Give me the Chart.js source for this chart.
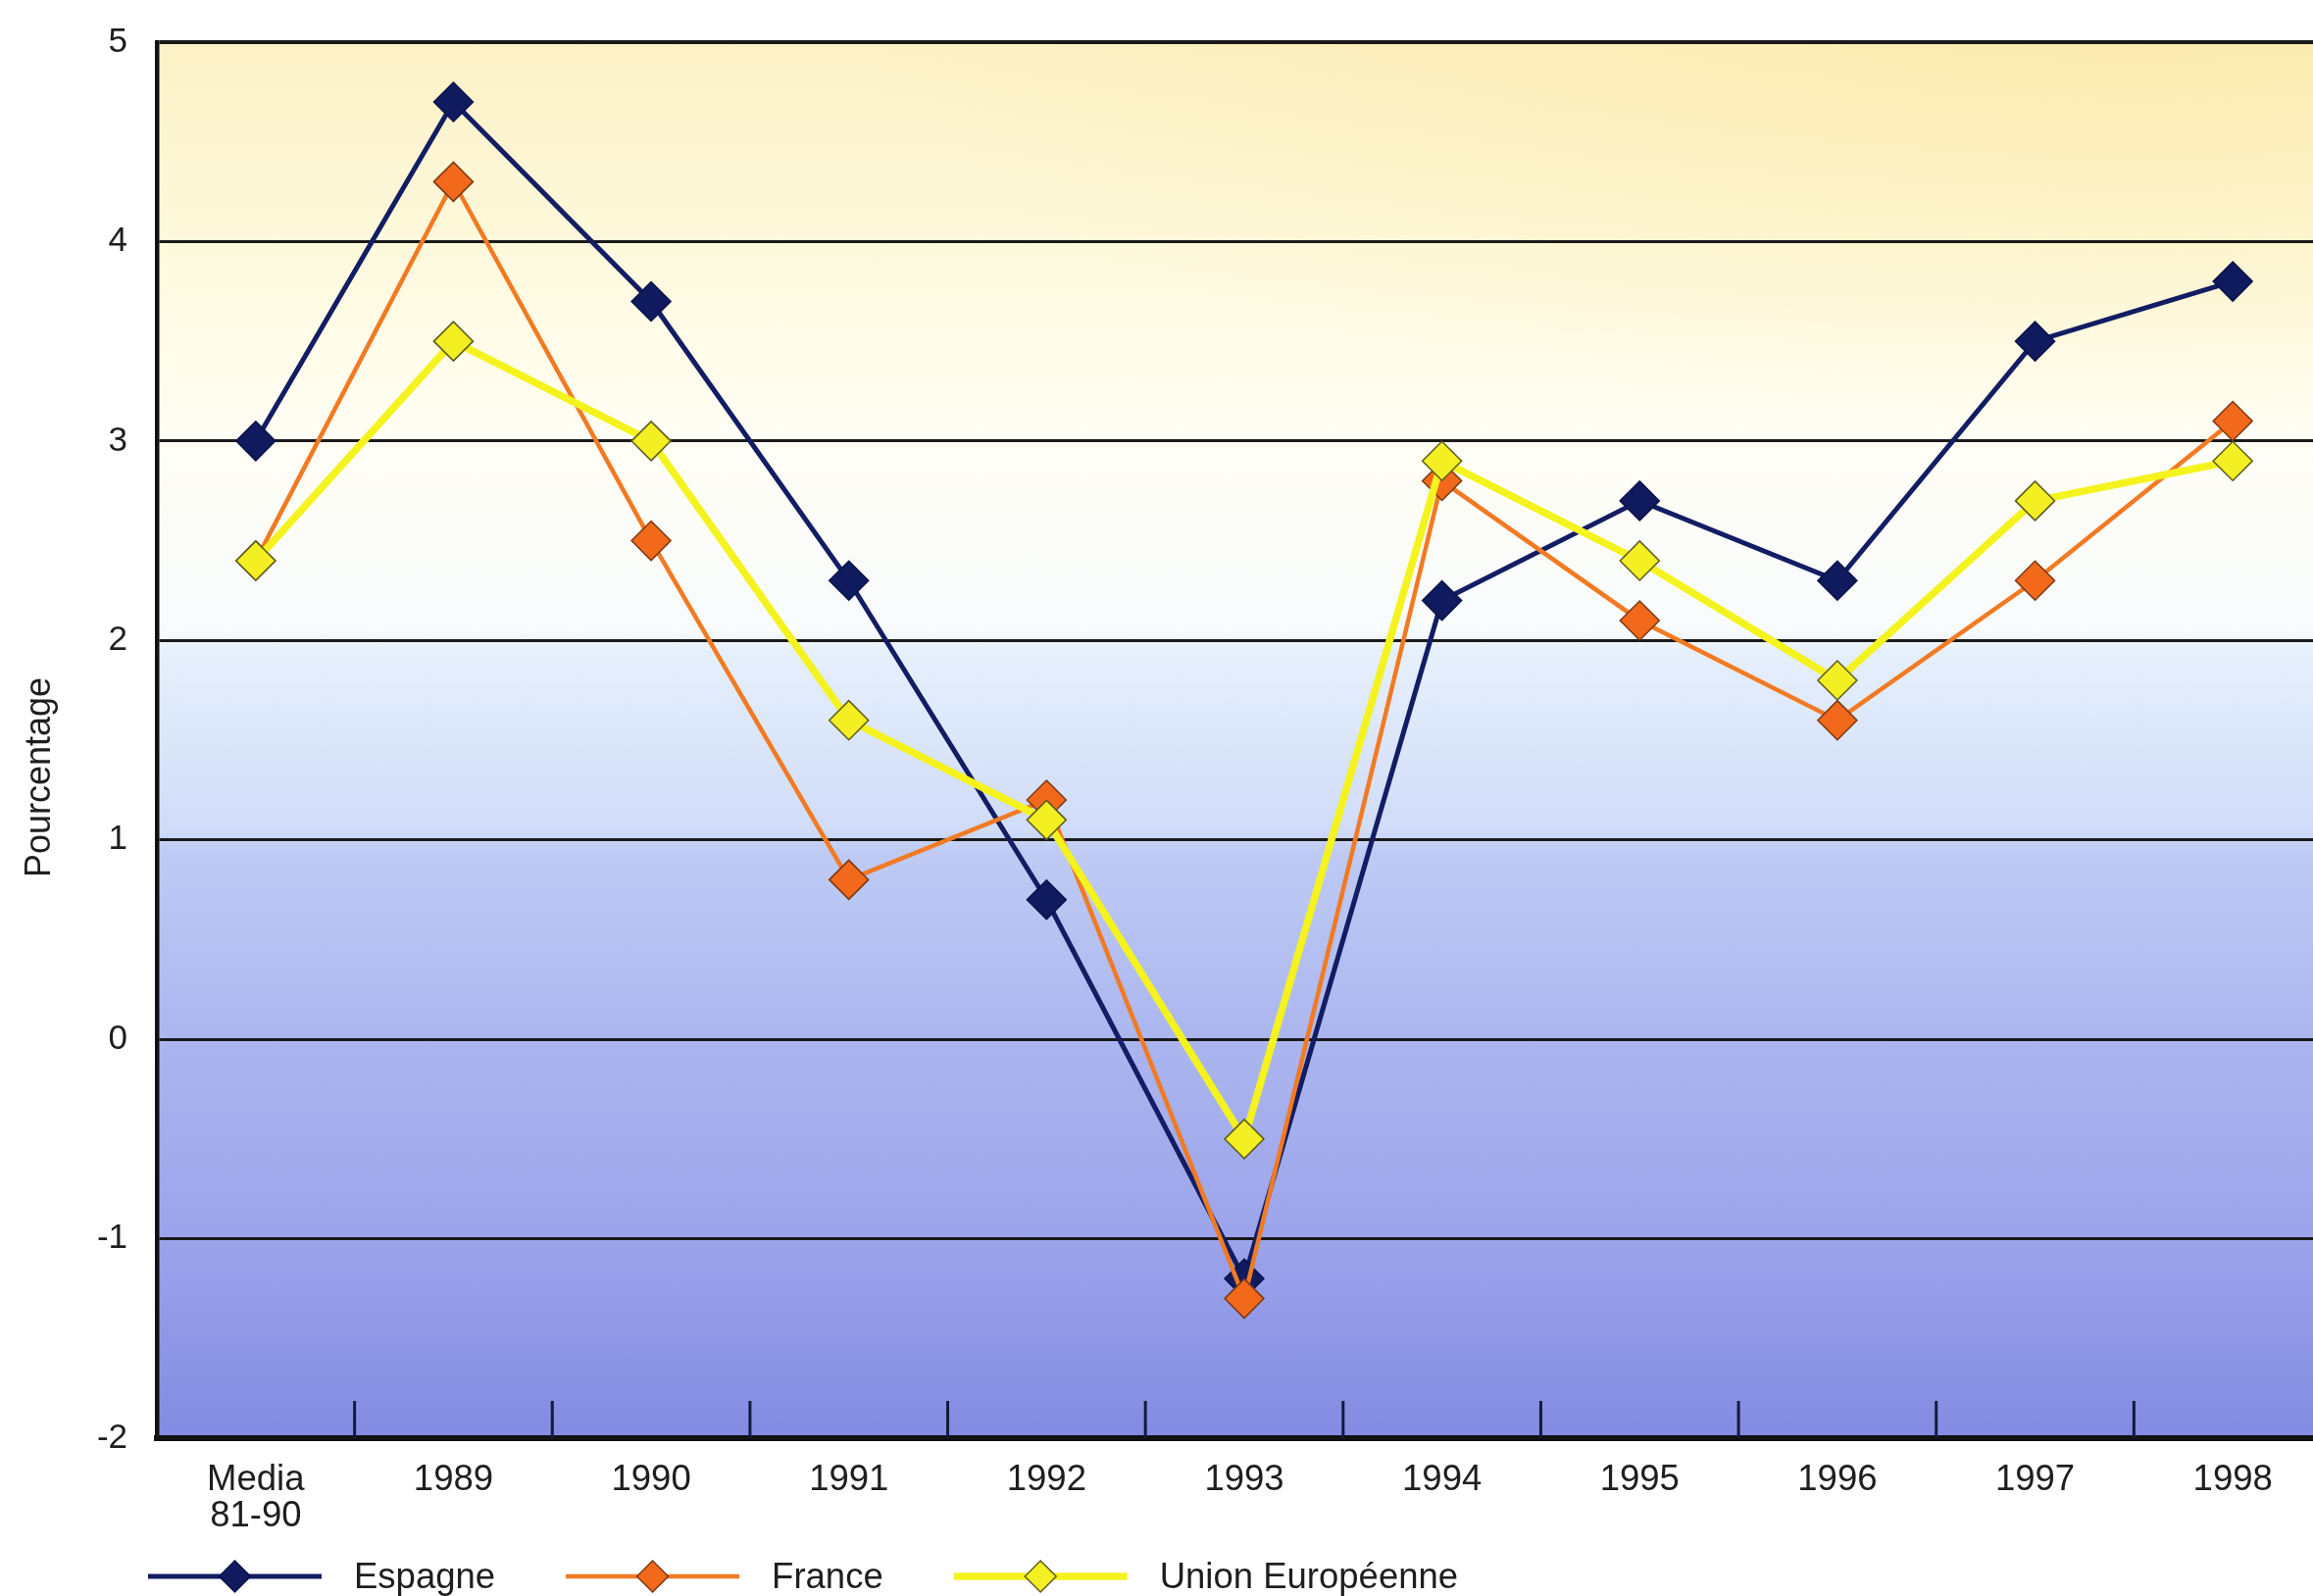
<!DOCTYPE html>
<html>
<head>
<meta charset="utf-8">
<script src="https://cdn.jsdelivr.net/npm/chart.js@4/dist/chart.umd.min.js"></script>
<style>
  html, body { margin: 0; padding: 0; background: #ffffff; overflow: hidden; }
  #wrap { width: 2359px; height: 1628px; overflow: hidden; position: relative; }
  #wrap canvas { position: absolute; left: 0; top: 0; }
</style>
</head>
<body>
<div id="wrap"><canvas id="growth" width="2378" height="1628" style="width:2378px;height:1628px"></canvas></div>
<script>
// Real GDP growth, %: 1981-90 average, then yearly 1989-1998
const categories = [['Media', '81-90'], '1989', '1990', '1991', '1992', '1993', '1994', '1995', '1996', '1997', '1998'];
const espagne = [3.0, 4.7, 3.7, 2.3, 0.7, -1.2, 2.2, 2.7, 2.3, 3.5, 3.8];
const france  = [2.4, 4.3, 2.5, 0.8, 1.2, -1.3, 2.8, 2.1, 1.6, 2.3, 3.1];
const unionEuropeenne = [2.4, 3.5, 3.0, 1.6, 1.1, -0.5, 2.9, 2.4, 1.8, 2.7, 2.9];
const seriesNames = ['Espagne', 'France', 'Union Européenne'];
const yMin = -2, yMax = 5, yStep = 1;
const yTitle = 'Pourcentage';

const FONT = '"Liberation Sans", Arial, sans-serif';
const INK = '#1e1e1e';

// plot-area wash: cream at the top, white in the middle, periwinkle at the bottom
const washStops = [
  [5, '#fcf1c6'], [4, '#fef9dc'], [3, '#fffef5'], [2.05, '#f8fbfd'],
  [1.95, '#e6f0fc'], [1.05, '#d0dcf8'], [0.95, '#bfcbf4'], [0, '#abb6ef'],
  [-1, '#9ba4ea'], [-2, '#838be2']
];

const plotWash = {
  id: 'plotWash',
  beforeDraw(chart) {
    const { ctx, chartArea: a, scales: { y } } = chart;
    const top = y.getPixelForValue(yMax), bottom = y.getPixelForValue(yMin);
    const g = ctx.createLinearGradient(0, top, 0, bottom);
    washStops.forEach(([v, c]) => g.addColorStop((y.getPixelForValue(v) - top) / (bottom - top), c));
    ctx.save();
    ctx.fillStyle = g;
    ctx.fillRect(a.left, a.top, a.right - a.left, a.bottom - a.top);
    // soft warmer glow toward the upper right corner
    ctx.beginPath();
    ctx.rect(a.left, a.top, a.right - a.left, a.bottom - a.top);
    ctx.clip();
    const sy = 0.3;
    ctx.setTransform(1, 0, 0, sy, 0, 0);
    const cx = a.right - 200, cy = top / sy;
    const r = ctx.createRadialGradient(cx, cy, 0, cx, cy, 1300);
    r.addColorStop(0, 'rgba(248,222,130,0.35)');
    r.addColorStop(1, 'rgba(248,222,130,0)');
    ctx.fillStyle = r;
    ctx.fillRect(a.left, top / sy, a.right - a.left, 1400);
    ctx.restore();
  }
};

// short inner tick marks between categories, rising from the baseline
const innerTicks = {
  id: 'innerTicks',
  beforeDatasetsDraw(chart) {
    const { ctx, chartArea: a, scales: { x } } = chart;
    ctx.save();
    ctx.strokeStyle = '#141a40';
    ctx.lineWidth = 3;
    for (let i = 1; i < categories.length; i++) {
      const px = (x.getPixelForValue(i - 1) + x.getPixelForValue(i)) / 2;
      ctx.beginPath();
      ctx.moveTo(px, a.bottom);
      ctx.lineTo(px, a.bottom - 38);
      ctx.stroke();
    }
    ctx.restore();
  }
};

// rotated axis title and the line-and-marker legend under the axis
const annotations = {
  id: 'annotations',
  afterDraw(chart) {
    const { ctx, chartArea: a } = chart;
    ctx.save();
    ctx.fillStyle = INK;
    ctx.font = '36px ' + FONT;
    ctx.textAlign = 'center';
    ctx.textBaseline = 'middle';
    ctx.translate(41, (a.top + a.bottom) / 2 + 38);
    ctx.rotate(-Math.PI / 2);
    ctx.fillText(yTitle, 0, 0);
    ctx.restore();

    const ly = chart.height - 20;
    let lx = 151;
    ctx.save();
    ctx.font = '36.5px ' + FONT;
    ctx.textBaseline = 'middle';
    ctx.textAlign = 'left';
    chart.data.datasets.forEach(ds => {
      const segLen = 177;
      ctx.strokeStyle = ds.borderColor;
      ctx.lineWidth = ds.borderWidth;
      ctx.beginPath();
      ctx.moveTo(lx, ly);
      ctx.lineTo(lx + segLen, ly);
      ctx.stroke();
      ctx.fillStyle = ds.pointBackgroundColor;
      ctx.strokeStyle = ds.pointBorderColor;
      ctx.lineWidth = ds.pointBorderWidth;
      Chart.helpers.drawPoint(ctx, { pointStyle: 'rectRot', radius: 16, borderWidth: ds.pointBorderWidth, rotation: 0 }, lx + segLen / 2, ly);
      ctx.fillStyle = INK;
      const tx = lx + segLen + 33;
      ctx.fillText(ds.label, tx, ly + 2);
      lx = tx + ctx.measureText(ds.label).width + 72;
    });
    ctx.restore();
  }
};

new Chart(document.getElementById('growth'), {
  type: 'line',
  data: {
    labels: categories,
    datasets: [
      {
        label: seriesNames[0], data: espagne, order: 3,
        borderColor: '#121d64', backgroundColor: '#121d64', borderWidth: 5,
        pointStyle: 'rectRot', pointRadius: 20, pointBackgroundColor: '#101a5e',
        pointBorderColor: '#0a1248', pointBorderWidth: 1.5
      },
      {
        label: seriesNames[1], data: france, order: 2,
        borderColor: '#f27a22', backgroundColor: '#f27a22', borderWidth: 4.5,
        pointStyle: 'rectRot', pointRadius: 20, pointBackgroundColor: '#f2691c',
        pointBorderColor: '#7a3812', pointBorderWidth: 1.5
      },
      {
        label: seriesNames[2], data: unionEuropeenne, order: 1,
        borderColor: '#f4f31e', backgroundColor: '#f4f31e', borderWidth: 7.5,
        pointStyle: 'rectRot', pointRadius: 20, pointBackgroundColor: '#f4ef22',
        pointBorderColor: '#5c5a1c', pointBorderWidth: 1.5
      }
    ]
  },
  options: {
    responsive: false,
    devicePixelRatio: 1,
    animation: false,
    clip: false,
    layout: { autoPadding: false, padding: { top: 43, right: 0, bottom: 0, left: 0 } },
    elements: { line: { tension: 0 } },
    plugins: { legend: { display: false }, tooltip: { enabled: false } },
    scales: {
      x: {
        type: 'category',
        offset: true,
        grid: { display: false },
        border: { display: true, color: '#111111', width: 6 },
        ticks: {
          color: INK, font: { family: FONT, size: 36.5, lineHeight: 1.0 },
          padding: 17, maxRotation: 0, autoSkip: false
        },
        afterFit(s) { s.height = 161; s.paddingLeft = 0; s.paddingRight = 0; }
      },
      y: {
        min: yMin, max: yMax,
        grid: {
          color: '#1a1a1a', drawTicks: false,
          lineWidth: c => (c.tick && c.tick.value === yMax ? 4 : 3)
        },
        border: { display: true, color: '#111111', width: 4.5 },
        ticks: {
          stepSize: yStep, color: INK,
          font: { family: FONT, size: 35 }, padding: 30
        },
        afterFit(s) { s.width = 160; s.paddingTop = 0; s.paddingBottom = 0; }
      }
    }
  },
  plugins: [plotWash, innerTicks, annotations]
});
</script>
</body>
</html>
